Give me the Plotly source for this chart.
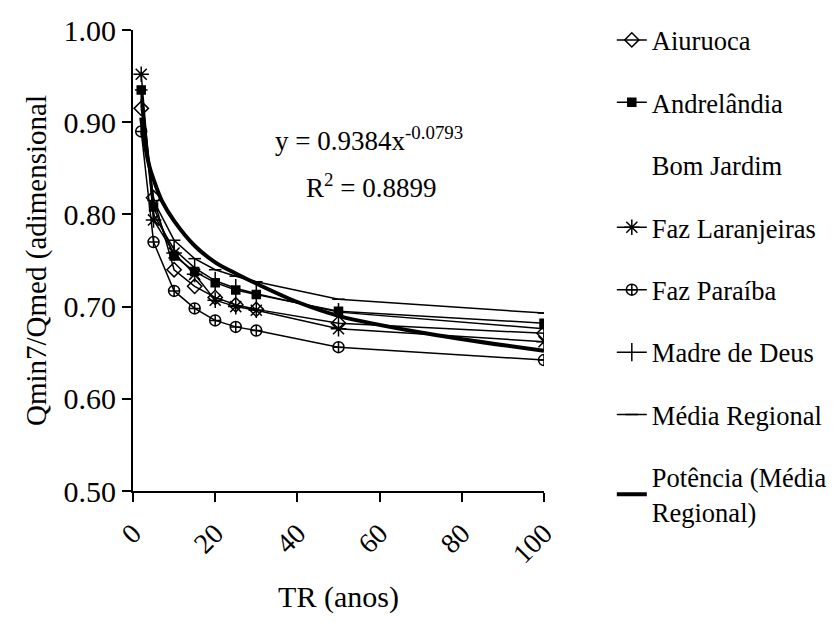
import plotly.graph_objects as go

tr = [2, 5, 10, 15, 20, 25, 30, 50, 100]

aiuruoca = [0.915, 0.818, 0.740, 0.722, 0.710, 0.702, 0.697, 0.682, 0.671]
andrelandia = [0.935, 0.808, 0.755, 0.738, 0.726, 0.718, 0.713, 0.695, 0.682]
bom_jardim = [0.920, 0.800, 0.750, 0.735, 0.722, 0.715, 0.710, 0.692, 0.678]
faz_laranjeiras = [0.952, 0.794, 0.758, 0.735, 0.707, 0.700, 0.696, 0.676, 0.662]
faz_paraiba = [0.890, 0.770, 0.717, 0.698, 0.685, 0.678, 0.674, 0.656, 0.642]
madre_de_deus = [0.925, 0.800, 0.762, 0.742, 0.728, 0.720, 0.714, 0.694, 0.676]
media_regional = [0.935, 0.815, 0.772, 0.752, 0.740, 0.733, 0.727, 0.708, 0.693]

trend_tr = [2, 3, 4, 5, 7, 10, 15, 20, 25, 30, 40, 50, 70, 100]
trend_val = [0.905, 0.873, 0.852, 0.838, 0.815, 0.793, 0.766, 0.748, 0.736, 0.725, 0.705, 0.690, 0.672, 0.652]

x_ticks = [0, 20, 40, 60, 80, 100]
y_ticks = [0.50, 0.60, 0.70, 0.80, 0.90, 1.00]

FONT = "Liberation Serif, Times New Roman, serif"
fig = go.Figure()

def add(name, y, symbol, size, color="black", width=1.5, mlw=1.5):
    fig.add_trace(go.Scatter(
        x=tr, y=y, name=name, mode="lines+markers",
        line=dict(color=color, width=width),
        marker=dict(symbol=symbol, size=size, color=color,
                    line=dict(color=color, width=mlw)),
        legendgroup=name,
    ))

# Bom Jardim drawn first (invisible in the scan)
fig.add_trace(go.Scatter(x=tr, y=bom_jardim, name="Bom Jardim", mode="lines",
                         line=dict(color="rgba(255,255,255,0)", width=1.5),
                         legendgroup="Bom Jardim"))
add("Aiuruoca", aiuruoca, "diamond-open", 11)
add("Andrelândia", andrelandia, "square", 8)
add("Faz Laranjeiras", faz_laranjeiras, "asterisk-open", 13)
add("Faz Paraíba", faz_paraiba, "circle-cross-open", 11)
add("Madre de Deus", madre_de_deus, "line-ns-open", 13)
add("Média Regional", media_regional, "line-ew-open", 9)

fig.add_trace(go.Scatter(x=trend_tr, y=trend_val, name="Potência (Média<br>Regional)",
                         mode="lines", line=dict(color="black", width=4, shape="spline"),
                         legendgroup="Potência"))

order = [1, 2, 0, 3, 4, 5, 6, 7]
for rank, idx in enumerate(order):
    fig.data[idx].legendrank = rank + 1

fig.add_annotation(x=0.575, y=0.805, xref="paper", yref="paper",
                   text="y = 0.9384x<sup>-0.0793</sup>", showarrow=False,
                   font=dict(family=FONT, size=27, color="black"))
fig.add_annotation(x=0.58, y=0.703, xref="paper", yref="paper",
                   text="R<sup>2</sup> = 0.8899", showarrow=False,
                   font=dict(family=FONT, size=27, color="black"))

fig.update_layout(
    width=834, height=630,
    margin=dict(l=133, r=290, t=30, b=139, autoexpand=False),
    paper_bgcolor="white", plot_bgcolor="white",
    font=dict(family=FONT, color="black"),
    showlegend=True,
    legend=dict(x=1.165, y=1.03, xanchor="left", yanchor="top",
                traceorder="grouped", tracegroupgap=25, maxheight=620,
                font=dict(family=FONT, size=26.5, color="black"),
                bgcolor="rgba(0,0,0,0)"),
    xaxis=dict(range=[0, 100], tickvals=x_ticks, ticktext=[str(v) for v in x_ticks],
               tickangle=-45, ticks="outside", ticklen=9, tickwidth=1.5,
               tickcolor="black", showline=True, linecolor="black", linewidth=1.5,
               showgrid=False, zeroline=False, ticklabelstandoff=4,
               tickfont=dict(family=FONT, size=28, color="black"),
               title=dict(text="TR (anos)", font=dict(family=FONT, size=30, color="black"),
                          standoff=18)),
    yaxis=dict(range=[0.5, 1.0], tickvals=y_ticks, ticktext=["%.2f" % v for v in y_ticks],
               ticks="outside", ticklen=9, tickwidth=1.5, tickcolor="black",
               showline=True, linecolor="black", linewidth=2,
               showgrid=False, zeroline=False,
               tickfont=dict(family=FONT, size=30, color="black"),
               title=dict(text="Qmin7/Qmed (adimensional", font=dict(family=FONT, size=29, color="black"),
                          standoff=8)),
)

fig.write_html("out.html")
